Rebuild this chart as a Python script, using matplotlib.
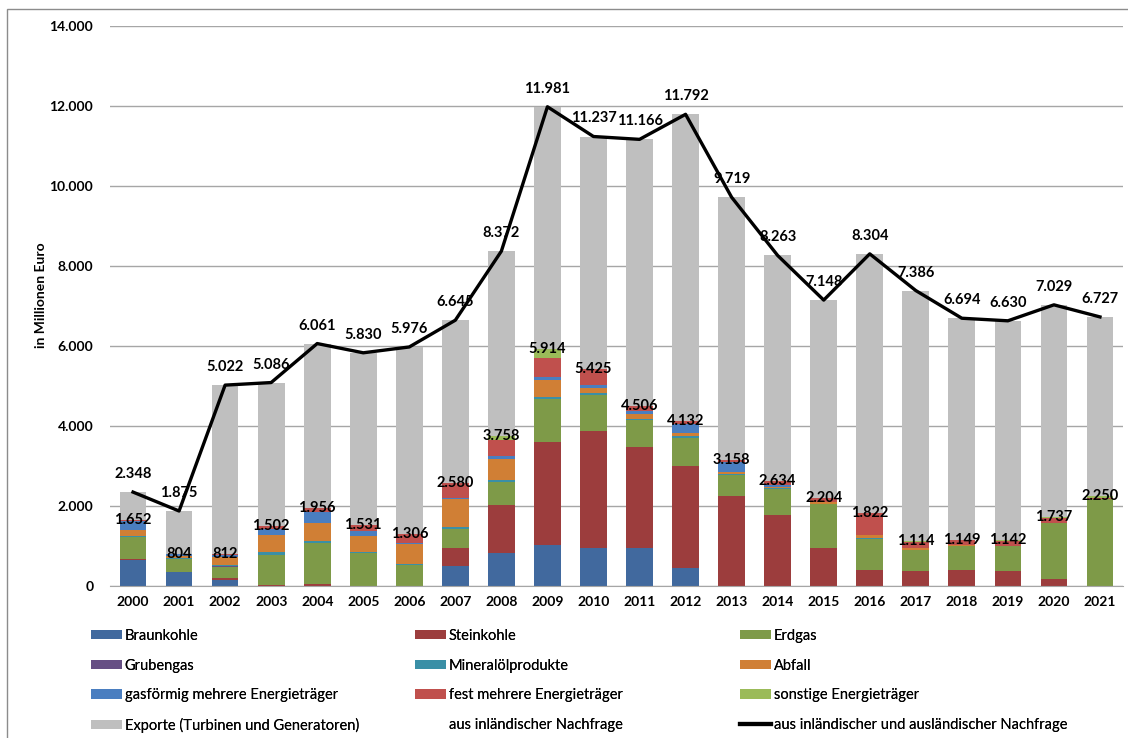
import matplotlib.pyplot as plt
from matplotlib.patches import Patch, Rectangle
from matplotlib.lines import Line2D
import numpy as np

plt.rcParams['font.family'] = ['Lato', 'DejaVu Sans']

# ==========================
# Data (Mio. Euro)
# ==========================
years = [str(y) for y in range(2000, 2022)]

braunkohle = [650, 350, 160, 0, 0, 0, 10, 500, 825, 1035, 950, 950, 460, 0, 0, 0, 0, 0, 0, 0, 0, 0]
steinkohle = [20, 10, 40, 25, 40, 10, 0, 450, 1210, 2570, 2925, 2525, 2535, 2250, 1770, 960, 410, 375, 410, 375, 185, 0]
erdgas = [560, 320, 270, 760, 1046, 820, 520, 485, 565, 1070, 890, 685, 715, 535, 650, 1100, 765, 535, 585, 625, 1390, 2180]
grubengas = [0, 0, 20, 0, 0, 0, 0, 0, 0, 0, 0, 0, 0, 0, 0, 0, 0, 0, 0, 0, 0, 0]
mineraloel = [30, 20, 40, 60, 35, 20, 30, 40, 40, 40, 60, 26, 30, 8, 20, 0, 35, 0, 0, 0, 10, 0]
abfall = [130, 40, 200, 420, 460, 400, 480, 690, 540, 435, 135, 110, 85, 65, 40, 40, 60, 40, 20, 10, 0, 0]
gasfoermig = [230, 50, 50, 170, 275, 120, 30, 40, 75, 85, 60, 85, 235, 250, 50, 0, 0, 0, 0, 0, 0, 0]
fest = [30, 14, 30, 67, 100, 160, 236, 375, 400, 460, 400, 125, 65, 50, 100, 100, 550, 160, 134, 125, 110, 30]
sonstige = [2, 0, 2, 0, 0, 1, 0, 0, 103, 219, 5, 0, 7, 0, 4, 4, 2, 4, 0, 7, 42, 40]

inland = [1652, 804, 812, 1502, 1956, 1531, 1306, 2580, 3758, 5914, 5425, 4506, 4132,
          3158, 2634, 2204, 1822, 1114, 1149, 1142, 1737, 2250]
gesamt = [2348, 1875, 5022, 5086, 6061, 5830, 5976, 6645, 8372, 11981, 11237, 11166, 11792,
          9719, 8263, 7148, 8304, 7386, 6694, 6630, 7029, 6727]
exporte = [g - i for g, i in zip(gesamt, inland)]

series = [
    ("Braunkohle", braunkohle, "#41699e"),
    ("Steinkohle", steinkohle, "#9c3d3d"),
    ("Erdgas", erdgas, "#7e9a48"),
    ("Grubengas", grubengas, "#664f84"),
    ("Mineralölprodukte", mineraloel, "#3a8fa6"),
    ("Abfall", abfall, "#d07f35"),
    ("gasförmig mehrere Energieträger", gasfoermig, "#4a7ec0"),
    ("fest mehrere Energieträger", fest, "#c0504d"),
    ("sonstige Energieträger", sonstige, "#9bbb59"),
    ("Exporte (Turbinen und Generatoren)", exporte, "#bfbfbf"),
]


def de(v):
    return f"{v:,}".replace(",", ".")


# ==========================
# Plot
# ==========================
fig = plt.figure(figsize=(11.28, 7.38), dpi=100)
ax = fig.add_axes([110 / 1128, 152 / 738, 1013 / 1128, 560 / 738])

x = np.arange(len(years))
bottom = np.zeros(len(years))
handles = {}
for name, vals, col in series:
    ax.bar(x, vals, 0.58, bottom=bottom, color=col, zorder=2)
    bottom += np.array(vals)
    handles[name] = Patch(facecolor=col)

ax.plot(x, gesamt, color="black", lw=2.4, zorder=4)

# labels
for i in range(len(years)):
    ax.annotate(de(gesamt[i]), (x[i], gesamt[i]), xytext=(0, 13), textcoords="offset points",
                ha="center", va="center", fontsize=10.5, fontweight="bold", zorder=5)
    ax.text(x[i], inland[i], de(inland[i]), ha="center", va="center",
            fontsize=10.5, fontweight="bold", zorder=5)

ax.set_xlim(-0.5, len(years) - 0.5)
ax.set_ylim(0, 14000)
ax.set_yticks(range(0, 14001, 2000))
ax.set_yticklabels([de(v) for v in range(0, 14001, 2000)], fontsize=10, fontweight="bold")
ax.set_xticks(x)
ax.set_xticklabels(years, fontsize=10, fontweight="bold")
ax.tick_params(length=0, pad=12)
ax.tick_params(axis="x", pad=7)
ax.grid(axis="y", color="#a6a6a6", lw=1, zorder=0)
for s in ["left", "right", "top"]:
    ax.spines[s].set_visible(False)
ax.spines["bottom"].set_color("#a6a6a6")
ax.set_ylabel("in Millionen Euro", fontsize=10, fontweight="bold")
ax.yaxis.set_label_coords(-0.062, 0.52)

# legend, three columns in row order
handles["aus inländischer Nachfrage"] = Patch(facecolor="none", edgecolor="none")
handles["aus inländischer und ausländischer Nachfrage"] = Line2D([], [], color="black", lw=3)
cols = [
    ["Braunkohle", "Grubengas", "gasförmig mehrere Energieträger", "Exporte (Turbinen und Generatoren)"],
    ["Steinkohle", "Mineralölprodukte", "fest mehrere Energieträger", "aus inländischer Nachfrage"],
    ["Erdgas", "Abfall", "sonstige Energieträger", "aus inländischer und ausländischer Nachfrage"],
]
for cx, names in zip([91, 415, 740], cols):
    leg = fig.legend([handles[n] for n in names], names, loc="upper left",
                     bbox_to_anchor=(cx / 1128, 1 - 629 / 738), frameon=False, fontsize=10.5,
                     handlelength=2.1, handleheight=0.6, handletextpad=0.2,
                     labelspacing=1.07, borderpad=0, borderaxespad=0)
    fig.add_artist(leg)

fig.add_artist(Rectangle((7 / 1128, -0.01), 1.0, 1 - 9 / 738 + 0.01, transform=fig.transFigure,
                         fill=False, edgecolor="#8c8c8c", lw=1))

fig.savefig("out.png", dpi=100)
